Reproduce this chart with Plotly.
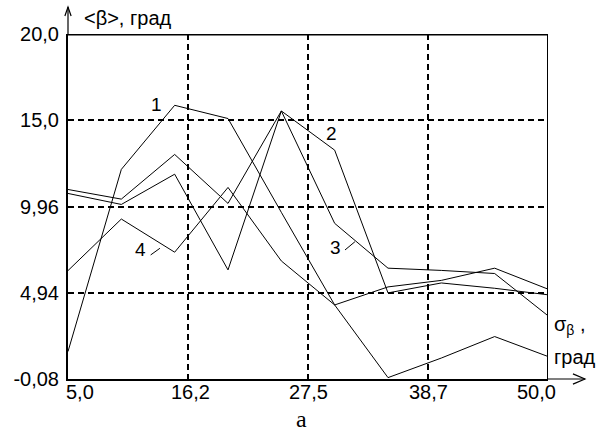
import plotly.graph_objects as go

# Mean angle <β> versus its spread σβ for four cases
sigma = [5, 10, 15, 20, 25, 30, 35, 40, 45, 50]
beta_1 = [1.52, 12.12, 15.85, 15.08, 9.62, 4.23, 0.0, 1.14, 2.39, 1.23]
beta_2 = [10.95, 10.39, 12.99, 10.14, 15.52, 13.24, 4.93, 5.51, 5.20, 4.82]
beta_3 = [10.72, 10.08, 11.84, 6.27, 15.52, 8.98, 6.37, 6.24, 6.06, 3.60]
beta_4 = [6.23, 9.23, 7.30, 11.07, 6.79, 4.23, 5.28, 5.66, 6.37, 5.15]

x_ticks = [5.0, 16.25, 27.5, 38.75, 50.0]
x_tick_text = ["5,0", "16,2", "27,5", "38,7", "50,0"]
y_ticks = [-0.08, 4.94, 9.96, 14.98, 20.0]
y_tick_text = ["-0,08", "4,94", "9,96", "15,0", "20,0"]

SANS = "Liberation Sans, Arial, sans-serif"
SERIF = "Liberation Serif, Times New Roman, serif"

fig = go.Figure()
for ys in (beta_1, beta_2, beta_3, beta_4):
    fig.add_trace(go.Scatter(x=sigma, y=ys, mode="lines",
                             line=dict(color="black", width=1),
                             showlegend=False, hoverinfo="skip"))

fig.update_layout(
    width=604, height=435,
    margin=dict(l=68, r=56, t=34, b=56),
    paper_bgcolor="white", plot_bgcolor="white",
    showlegend=False,
    font=dict(family=SANS, size=20, color="black"),
)
fig.update_xaxes(range=[5, 50], tickvals=x_ticks, showticklabels=False,
                 showgrid=True, gridcolor="black", gridwidth=1.5, griddash="6px,4px",
                 showline=True, linecolor="black", linewidth=2,
                 zeroline=False, ticks="")
fig.update_yaxes(range=[-0.08, 20.0], tickvals=y_ticks, ticktext=y_tick_text,
                 tickfont=dict(family=SANS, size=20, color="black"),
                 showgrid=True, gridcolor="black", gridwidth=1.5, griddash="6px,4px",
                 showline=True, linecolor="black", linewidth=2,
                 zeroline=False, ticks="", ticklabelstandoff=3)

# frame: thick top edge and right edge
fig.add_shape(type="line", xref="x", yref="y", x0=5, x1=50, y0=20.0, y1=20.0,
              line=dict(color="black", width=3))
fig.add_shape(type="line", xref="x", yref="y", x0=50, x1=50, y0=-0.08, y1=20.0,
              line=dict(color="black", width=2))

# axis arrows
fig.add_shape(type="line", xref="paper", yref="paper", x0=0, x1=0, y0=1.0, y1=1.078,
              line=dict(color="black", width=1.2))
fig.add_shape(type="path", xref="paper", yref="paper",
              path="M -0.0065 1.052 L 0 1.078 L 0.0065 1.052",
              line=dict(color="black", width=1.2))
fig.add_shape(type="line", xref="paper", yref="paper", x0=1.0, x1=1.077, y0=0, y1=0,
              line=dict(color="black", width=1.2))
fig.add_shape(type="path", xref="paper", yref="paper",
              path="M 1.052 0.015 L 1.077 0 L 1.052 -0.015",
              line=dict(color="black", width=1.2))

# x tick labels
for xv, txt in zip(x_ticks, x_tick_text):
    anchor, shift = "center", 0
    if xv == x_ticks[0]:
        anchor, shift = "left", -4
    elif xv == x_ticks[-1]:
        anchor, shift = "right", 10
    elif txt.startswith("1"):
        shift = 2
    fig.add_annotation(x=xv, y=-0.038, xref="x", yref="paper", text=txt,
                       showarrow=False, xanchor=anchor, yanchor="middle",
                       xshift=shift, font=dict(family=SANS, size=20))

# axis titles
fig.add_annotation(x=0.03, y=1.045, xref="paper", yref="paper",
                   text="&lt;β&gt;, град", showarrow=False,
                   xanchor="left", yanchor="middle", font=dict(family=SANS, size=20))
fig.add_annotation(x=1.008, y=0.155, xref="paper", yref="paper",
                   text="σ<sub>β</sub> ,", showarrow=False,
                   xanchor="left", yanchor="middle", font=dict(family=SANS, size=20))
fig.add_annotation(x=1.008, y=0.065, xref="paper", yref="paper",
                   text="град", showarrow=False,
                   xanchor="left", yanchor="middle", font=dict(family=SANS, size=20))

# panel letter
fig.add_annotation(x=0.487, y=-0.115, xref="paper", yref="paper", text="а",
                   showarrow=False, xanchor="center", yanchor="middle",
                   font=dict(family=SERIF, size=24))

# curve numbers with leader ticks
curve_labels = [("1", 13.25, 15.91), ("2", 29.66, 14.22), ("3", 30.12, 7.6), ("4", 11.84, 7.43)]
for txt, xv, yv in curve_labels:
    fig.add_annotation(x=xv, y=yv, xref="x", yref="y", text=txt, showarrow=False,
                       xanchor="center", yanchor="middle", font=dict(family=SANS, size=19))
fig.add_shape(type="line", xref="x", yref="y", x0=30.97, x1=31.9, y0=7.43, y1=7.91,
              line=dict(color="black", width=1))
fig.add_shape(type="line", xref="x", yref="y", x0=12.75, x1=13.62, y0=7.14, y1=7.53,
              line=dict(color="black", width=1))

fig.write_html("out.html")
